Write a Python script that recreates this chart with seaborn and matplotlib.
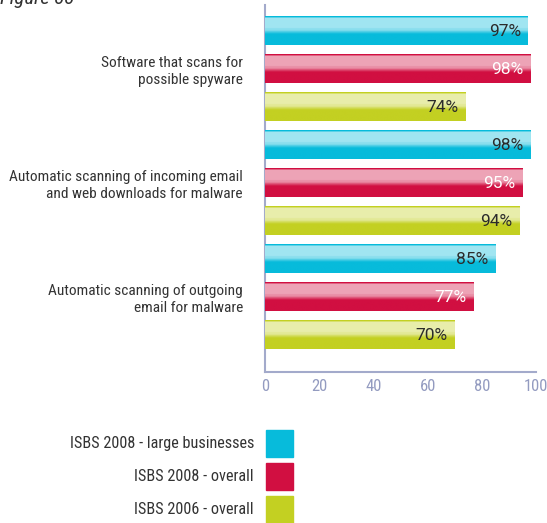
import numpy as np
import pandas as pd
import matplotlib
matplotlib.use("Agg")
import matplotlib.pyplot as plt
from matplotlib.colors import to_rgb
from matplotlib.patches import Rectangle
import seaborn as sns

# данные
categories = ["Software that scans for\npossible spyware",
              "Automatic scanning of incoming email\nand web downloads for malware",
              "Automatic scanning of outgoing\nemail for malware"]
series = ["ISBS 2008 - large businesses", "ISBS 2008 - overall", "ISBS 2006 - overall"]
large_2008 = [97, 98, 85]
overall_2008 = [98, 95, 77]
overall_2006 = [74, 94, 70]
colors = ["#07bbdb", "#d10f41", "#c3d022"]
label_colors = ["#2b2b2b", "white", "#2b2b2b"]

df = pd.DataFrame({
    "category": categories * 3,
    "series": [s for s in series for _ in categories],
    "value": large_2008 + overall_2008 + overall_2006,
})

sns.set_style("white")
plt.rcParams["font.family"] = ["Roboto Condensed", "DejaVu Sans"]

fig = plt.figure(figsize=(5.47, 5.23), dpi=100)
ax = fig.add_axes([265 / 547, 1 - 372 / 523, 271 / 547, 367 / 523])

sns.barplot(data=df, y="category", x="value", hue="series", hue_order=series,
            palette=colors, orient="h", width=1.0, gap=0.26, legend=False,
            saturation=1, ax=ax)


def gradient(base):
    # глянцевый эффект: светлая полоса сверху, насыщенный низ
    b = np.array(to_rgb(base))
    light = b + (1 - b) * 0.62
    t = np.linspace(0, 1, 60)
    rows = []
    for v in t:
        if v < 0.05:
            c = b
        elif v < 0.42:
            c = light
        elif v < 0.5:
            c = light * 0.85 + b * 0.15
        elif v < 0.62:
            k = (v - 0.5) / 0.12
            c = light * (1 - k) * 0.7 + b * (1 - (1 - k) * 0.7)
        else:
            c = b
        rows.append(c)
    return np.array(rows)[:, None, :]


for container, base, lc in zip(ax.containers, colors, label_colors):
    for patch in container:
        x0, y0 = patch.get_x(), patch.get_y()
        w, h = patch.get_width(), patch.get_height()
        ax.imshow(gradient(base), extent=[x0, x0 + w, y0 + h, y0],
                  aspect="auto", interpolation="bilinear", zorder=3)
        ax.text(x0 + w - 2.6, y0 + h * 0.53, f"{w:.0f}%", ha="right", va="center",
                color=lc, fontsize=12.5, family=["Roboto", "DejaVu Sans"], zorder=4)

ax.set_xlim(0, 100)
ax.set_ylim(2.658, -0.561)
ax.set_xticks(range(0, 101, 20))
ax.set_xlabel("")
ax.set_ylabel("")

axis_col = "#a3aacb"
for side in ["top", "right"]:
    ax.spines[side].set_visible(False)
for side in ["left", "bottom"]:
    ax.spines[side].set_color(axis_col)
    ax.spines[side].set_linewidth(1.5)

ax.tick_params(axis="x", direction="in", length=6, width=1.3, color=axis_col,
               labelcolor="#939bc0", labelsize=12, pad=5)
ax.tick_params(axis="y", length=0, labelcolor="#333333", labelsize=11.1, pad=16)
for lbl in ax.get_yticklabels():
    lbl.set_horizontalalignment("right")
    lbl.set_multialignment("right")

# легенда
for i, (name, col) in enumerate(zip(series, colors)):
    top = 430 + i * 33
    fig.add_artist(Rectangle((266 / 547, 1 - (top + 27) / 523), 27 / 547, 27 / 523,
                             transform=fig.transFigure, color=col))
    fig.text(254 / 547, 1 - (top + 13.5) / 523, name, ha="right", va="center",
             fontsize=11.7, color="#333333")

fig.text(0.0, 0.992, "Figure 33", fontsize=15, style="italic", color="#333333",
         va="baseline", ha="left")

fig.savefig("out.png", dpi=100)
